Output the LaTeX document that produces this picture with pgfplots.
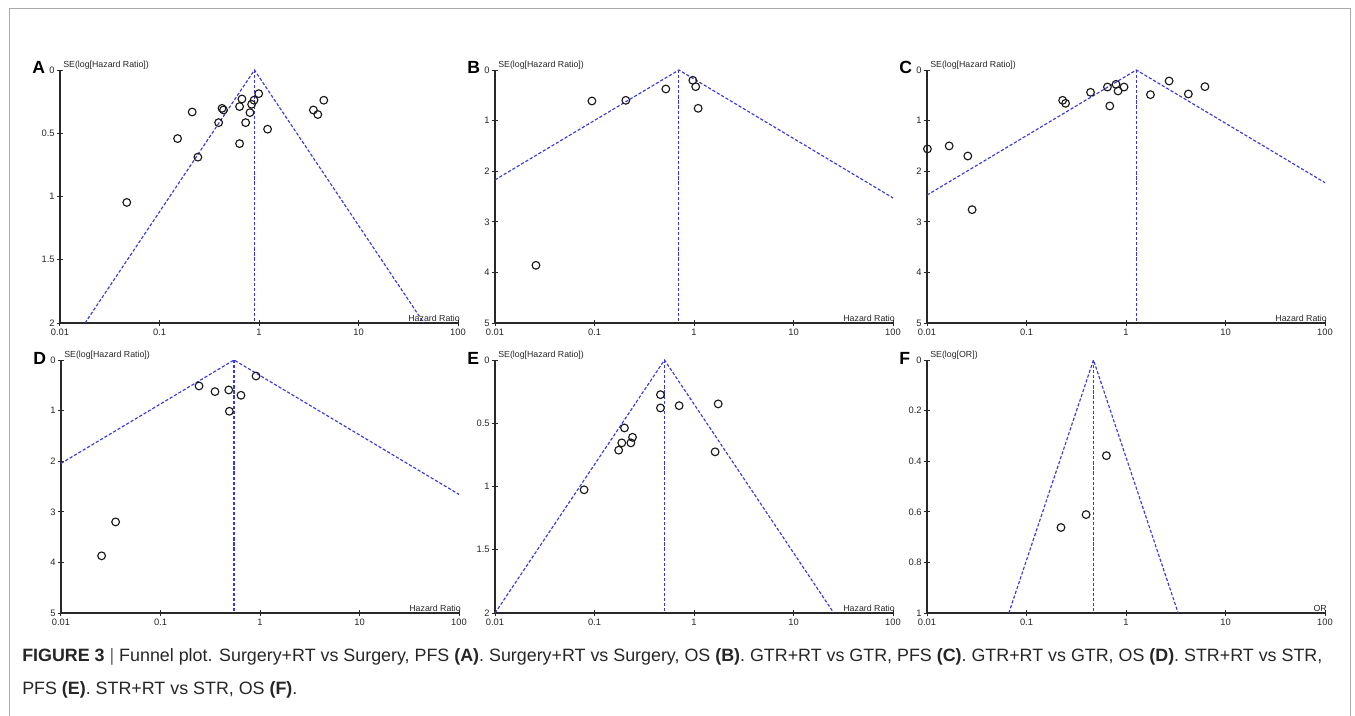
\documentclass[border=0pt]{standalone}
\usepackage{fontspec}
\setmainfont{Liberation Sans}
\usepackage{pgfplots}
\pgfplotsset{compat=1.18}
\definecolor{axc}{RGB}{40,40,40}
\definecolor{fblue}{RGB}{55,55,225}
\definecolor{framec}{RGB}{170,170,170}
\newcommand{\tfont}{\fontsize{7}{8}\selectfont}
\newcommand{\lfont}{\fontsize{6.6}{7.5}\selectfont}
\tikzset{
  mypts/.style={only marks, mark=o, mark size=2.9pt, mark options={line width=0.85pt, black!90}},
  myfl/.style={fblue, dash pattern=on 2.4pt off 1.4pt, line width=0.85pt},
}
\begin{document}
\begin{tikzpicture}[x=0.75pt, y=-0.75pt]
\useasboundingbox (0,0) rectangle (1355,716);
\draw[framec, line width=0.75pt] (9,740) -- (9,9) -- (1350,9) -- (1350,740);

% ---------- A ----------
\begin{semilogxaxis}[at={(45pt,-242.25pt)}, anchor=south west,
    scale only axis, width=298.5pt, height=189.75pt,
    xmin=0.01, xmax=100, ymin=0, ymax=2, y dir=reverse,
    axis x line=bottom, axis y line=left,
    axis line style={-, line width=0.9pt, color=axc},
    xtick={0.01,0.1,1,10,100}, xticklabels={0.01,0.1,1,10,100},
    ytick={0,0.5,1,1.5,2}, yticklabels={0,0.5,1,1.5,2},
    minor xtick={}, minor ytick={}, minor tick length=0pt,
    tick align=center, major tick length=5pt,
    tick style={line width=0.75pt, color=axc},
    ticklabel style={font=\tfont, color=black!85},
    xticklabel style={yshift=1.2pt}, yticklabel style={xshift=2pt},
    clip=false]
\addplot[myfl] coordinates {(0.01786,2) (0.90,0) (45.36,2)};
\addplot[myfl] coordinates {(0.90,0) (0.90,2)};
\addplot[mypts] coordinates {
(0.0469,1.047) (0.152,0.542) (0.213,0.332) (0.243,0.689) (0.393,0.416)
(0.425,0.303) (0.44,0.316) (0.638,0.289) (0.674,0.229) (0.638,0.582)
(0.734,0.416) (0.811,0.337) (0.843,0.271) (0.891,0.239) (0.993,0.187)
(1.22,0.468) (3.52,0.316) (3.90,0.352) (4.48,0.239)};
\end{semilogxaxis}

% ---------- B ----------
\begin{semilogxaxis}[at={(371.25pt,-242.25pt)}, anchor=south west,
    scale only axis, width=298.5pt, height=189.75pt,
    xmin=0.01, xmax=100, ymin=0, ymax=5, y dir=reverse,
    axis x line=bottom, axis y line=left,
    axis line style={-, line width=0.9pt, color=axc},
    xtick={0.01,0.1,1,10,100}, xticklabels={0.01,0.1,1,10,100},
    ytick={0,1,2,3,4,5}, yticklabels={0,1,2,3,4,5},
    minor xtick={}, minor ytick={}, minor tick length=0pt,
    tick align=center, major tick length=5pt,
    tick style={line width=0.75pt, color=axc},
    ticklabel style={font=\tfont, color=black!85},
    xticklabel style={yshift=1.2pt}, yticklabel style={xshift=2pt},
    clip=false]
\addplot[myfl] coordinates {(0.01,2.171) (0.705,0) (100,2.528)};
\addplot[myfl] coordinates {(0.705,0) (0.705,5)};
\addplot[mypts] coordinates {
(0.0258,3.86) (0.0942,0.612) (0.2065,0.599) (0.521,0.375)
(0.973,0.204) (1.04,0.329) (1.10,0.757)};
\end{semilogxaxis}

% ---------- C ----------
\begin{semilogxaxis}[at={(695.25pt,-242.25pt)}, anchor=south west,
    scale only axis, width=298.5pt, height=189.75pt,
    xmin=0.01, xmax=100, ymin=0, ymax=5, y dir=reverse,
    axis x line=bottom, axis y line=left,
    axis line style={-, line width=0.9pt, color=axc},
    xtick={0.01,0.1,1,10,100}, xticklabels={0.01,0.1,1,10,100},
    ytick={0,1,2,3,4,5}, yticklabels={0,1,2,3,4,5},
    minor xtick={}, minor ytick={}, minor tick length=0pt,
    tick align=center, major tick length=5pt,
    tick style={line width=0.75pt, color=axc},
    ticklabel style={font=\tfont, color=black!85},
    xticklabel style={yshift=1.2pt}, yticklabel style={xshift=2pt},
    clip=false]
\addplot[myfl] coordinates {(0.01,2.472) (1.27,0) (100,2.227)};
\addplot[myfl] coordinates {(1.27,0) (1.27,5)};
\addplot[mypts] coordinates {
(0.0101,1.56) (0.0167,1.50) (0.0257,1.70) (0.0284,2.76) (0.2308,0.599)
(0.247,0.658) (0.440,0.441) (0.651,0.336) (0.687,0.711) (0.794,0.283)
(0.832,0.414) (0.955,0.336) (1.76,0.487) (2.71,0.217) (4.23,0.474) (6.21,0.329)};
\end{semilogxaxis}

% ---------- D ----------
\begin{semilogxaxis}[at={(45.75pt,-459.75pt)}, anchor=south west,
    scale only axis, width=298.5pt, height=189.75pt,
    xmin=0.01, xmax=100, ymin=0, ymax=5, y dir=reverse,
    axis x line=bottom, axis y line=left,
    axis line style={-, line width=0.9pt, color=axc},
    xtick={0.01,0.1,1,10,100}, xticklabels={0.01,0.1,1,10,100},
    ytick={0,1,2,3,4,5}, yticklabels={0,1,2,3,4,5},
    minor xtick={}, minor ytick={}, minor tick length=0pt,
    tick align=center, major tick length=5pt,
    tick style={line width=0.75pt, color=axc},
    ticklabel style={font=\tfont, color=black!85},
    xticklabel style={yshift=1.2pt}, yticklabel style={xshift=2pt},
    clip=false]
\addplot[myfl] coordinates {(0.01,2.043) (0.548,0) (100,2.656)};
\addplot[myfl] coordinates {(0.548,0) (0.548,5)};
\addplot[mypts] coordinates {
(0.0256,3.87) (0.0354,3.20) (0.244,0.513) (0.353,0.625)
(0.485,0.592) (0.492,1.013) (0.644,0.697) (0.912,0.316)};
\end{semilogxaxis}

% ---------- E ----------
\begin{semilogxaxis}[at={(371.25pt,-459.75pt)}, anchor=south west,
    scale only axis, width=298.5pt, height=189.75pt,
    xmin=0.01, xmax=100, ymin=0, ymax=2, y dir=reverse,
    axis x line=bottom, axis y line=left,
    axis line style={-, line width=0.9pt, color=axc},
    xtick={0.01,0.1,1,10,100}, xticklabels={0.01,0.1,1,10,100},
    ytick={0,0.5,1,1.5,2}, yticklabels={0,0.5,1,1.5,2},
    minor xtick={}, minor ytick={}, minor tick length=0pt,
    tick align=center, major tick length=5pt,
    tick style={line width=0.75pt, color=axc},
    ticklabel style={font=\tfont, color=black!85},
    xticklabel style={yshift=1.2pt}, yticklabel style={xshift=2pt},
    clip=false]
\addplot[myfl] coordinates {(0.01002,2) (0.505,0) (25.4,2)};
\addplot[myfl] coordinates {(0.505,0) (0.505,2)};
\addplot[mypts] coordinates {
(0.0786,1.026) (0.175,0.713) (0.188,0.655) (0.200,0.537) (0.232,0.655)
(0.241,0.611) (0.460,0.274) (0.460,0.379) (0.709,0.361) (1.63,0.726) (1.75,0.347)};
\end{semilogxaxis}

% ---------- F ----------
\begin{semilogxaxis}[at={(695.25pt,-459.75pt)}, anchor=south west,
    scale only axis, width=298.5pt, height=189.75pt,
    xmin=0.01, xmax=100, ymin=0, ymax=1, y dir=reverse,
    axis x line=bottom, axis y line=left,
    axis line style={-, line width=0.9pt, color=axc},
    xtick={0.01,0.1,1,10,100}, xticklabels={0.01,0.1,1,10,100},
    ytick={0,0.2,0.4,0.6,0.8,1}, yticklabels={0,0.2,0.4,0.6,0.8,1},
    minor xtick={}, minor ytick={}, minor tick length=0pt,
    tick align=center, major tick length=5pt,
    tick style={line width=0.75pt, color=axc},
    ticklabel style={font=\tfont, color=black!85},
    xticklabel style={yshift=1.2pt}, yticklabel style={xshift=2pt},
    clip=false]
\addplot[myfl] coordinates {(0.0664,1) (0.471,0) (3.34,1)};
\addplot[myfl] coordinates {(0.471,0) (0.471,1)};
\addplot[mypts] coordinates {(0.222,0.662) (0.397,0.611) (0.635,0.378)};
\end{semilogxaxis}

% ---------- panel letters and axis titles ----------
\foreach \L/\lx/\ty/\yl/\xl in {A/60/70/{SE(log[Hazard Ratio])}/{Hazard Ratio},
  B/495/70/{SE(log[Hazard Ratio])}/{Hazard Ratio},
  C/927/70/{SE(log[Hazard Ratio])}/{Hazard Ratio},
  D/61/360/{SE(log[Hazard Ratio])}/{Hazard Ratio},
  E/495/360/{SE(log[Hazard Ratio])}/{Hazard Ratio},
  F/927/360/{SE(log[OR])}/{OR}}{
  \node[anchor=base west, inner sep=0pt, font=\fontsize{13.2}{14}\selectfont\bfseries] at (\lx-28,\ty+4) {\L};
  \node[anchor=base west, inner sep=0pt, font=\lfont, color=black!85] at (\lx+3,\ty-2) {\yl};
  \node[anchor=base east, inner sep=0pt, font=\lfont, color=black!85] at (\lx+400,\ty+251) {\xl};
}

% ---------- caption ----------
\node[anchor=base west, inner sep=0pt, font=\fontsize{13.4}{16}\selectfont, color=black!85] at (22,661)
 {\textbf{FIGURE 3} {\color{black!60}|} Funnel plot. Surgery+RT vs Surgery, PFS \textbf{(A)}. Surgery+RT vs Surgery, OS \textbf{(B)}. GTR+RT vs GTR, PFS \textbf{(C)}. GTR+RT vs GTR, OS \textbf{(D)}. STR+RT vs STR,};
\node[anchor=base west, inner sep=0pt, font=\fontsize{13.4}{16}\selectfont, color=black!85] at (22,694)
 {PFS \textbf{(E)}. STR+RT vs STR, OS \textbf{(F)}.};
\end{tikzpicture}
\end{document}
